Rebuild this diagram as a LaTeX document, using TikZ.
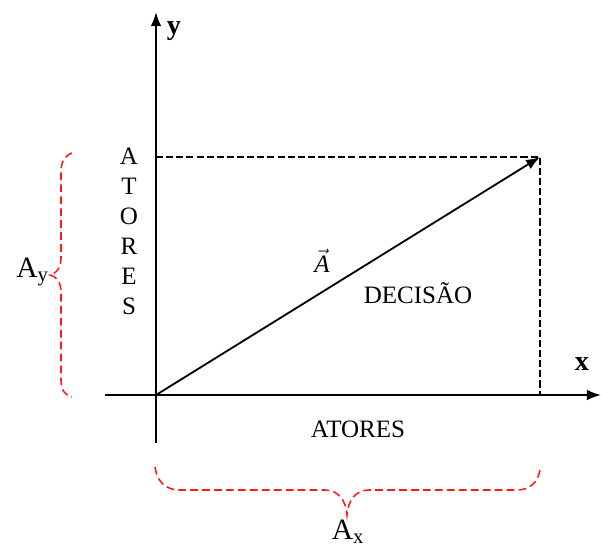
\documentclass[tikz,border=0pt]{standalone}
\usepackage{fontspec}
\setmainfont{Liberation Serif}
\usetikzlibrary{arrows.meta}

\begin{document}
\begin{tikzpicture}[x=0.025cm, y=-0.025cm,
    eixo/.style={line width=1.3pt, -{Latex[length=10pt,width=7.5pt]}},
    proj/.style={dash pattern=on 5pt off 2.2pt, line width=0.8pt},
    chave/.style={red!90!white, dash pattern=on 5.5pt off 3pt, line width=1.1pt},
    rotulo/.style={font=\fontsize{17.8}{21.3}\selectfont, inner sep=0pt}]
    \useasboundingbox (0,0) rectangle (602,547);

    % Pontos
    \coordinate (O) at (156,395);
    \coordinate (P) at (540,157);
    \coordinate (ytop) at (156,12);
    \coordinate (ybot) at (156,443);
    \coordinate (xesq) at (105,395);
    \coordinate (xdir) at (601,395);

    % Eixos
    \draw[eixo] (ybot) -- (ytop);
    \draw[eixo] (xesq) -- (xdir);
    \node[rotulo, font=\fontsize{20}{24}\selectfont\bfseries] (ylab) at (174,31) {y};
    \node[rotulo, font=\fontsize{20}{24}\selectfont\bfseries] (xlab) at (582,364) {x};

    % Projecoes
    \draw[proj] (O |- P) -- (P) -- (P |- O);

    % Vetor
    \draw[eixo] (O) -- (P);
    \node[rotulo] (vetor) at (322,261) {$\vec{\textit{A}}$};
    \node[rotulo] (decisao) at (418,293) {DECISÃO};

    % Atores
    \node[rotulo, align=center] (atoresv) at (129,231) {A\\T\\O\\R\\E\\S};
    \node[rotulo] (atoresh) at (358,429) {ATORES};

    % Chave Ay
    \draw[chave] (72,153) .. controls (64,156) and (61,163) .. (61,172)
      -- (61,258) .. controls (61,268) and (56,274) .. (50,275)
      .. controls (56,276) and (61,282) .. (61,292)
      -- (61,380) .. controls (61,389) and (64,395) .. (72,397);
    \node[rotulo, font=\fontsize{21}{24}\selectfont, anchor=east] (ay) at (49,272) {A\textsubscript{y}};

    % Chave Ax
    \draw[chave] (155,467) .. controls (157,482) and (166,490) .. (180,490)
      -- (325,490) .. controls (338,490) and (346,500) .. (347,515)
      .. controls (348,500) and (356,490) .. (369,490)
      -- (517,490) .. controls (530,490) and (538,482) .. (540,470);
    \node[rotulo, font=\fontsize{21}{24}\selectfont] (ax) at (348,532) {A\textsubscript{x}};
\end{tikzpicture}
\end{document}
